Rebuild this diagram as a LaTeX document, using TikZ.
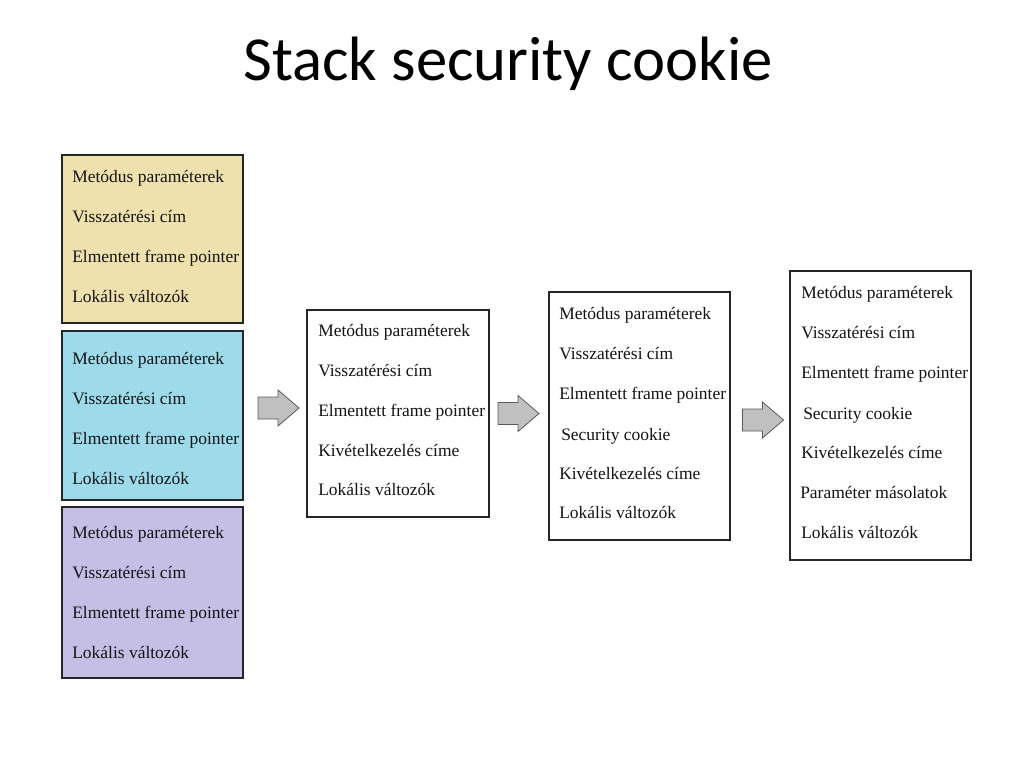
\documentclass[tikz,border=0pt]{standalone}
\usepackage{fontspec}
\setmainfont{Liberation Serif}
\newfontfamily\titlefont{Carlito}
\usetikzlibrary{fit}
\definecolor{boxyellow}{HTML}{EFE1AE}
\definecolor{boxcyan}{HTML}{9DDBEB}
\definecolor{boxpurple}{HTML}{C5BFE6}
\definecolor{arrowgray}{HTML}{C0C0C0}
\definecolor{textblack}{HTML}{141414}
\tikzset{
  stackbox/.style={draw=black!85, line width=0.8pt, inner sep=0pt, rectangle},
  entry/.style={anchor=base west, inner sep=0pt, text=textblack, font=\fontsize{13.1pt}{15pt}\selectfont},
  blockarrow/.style={draw=black!65, fill=arrowgray, line width=0.6pt, line join=miter},
  titletext/.style={anchor=base, inner sep=0pt, font=\titlefont\fontsize{47pt}{56pt}\selectfont}
}
\newcommand{\myblockarrow}[1]{%
  \draw[blockarrow, shift={(#1)}] (-20.5,-11) -- (-0.5,-11) -- (-0.5,-18) -- (20.5,0)
    -- (-0.5,18) -- (-0.5,11) -- (-20.5,11) -- cycle;}
\begin{document}
\begin{tikzpicture}[x=0.75pt,y=-0.75pt]
\useasboundingbox (0,0) rectangle (1024,768);
\node[titletext] (title) at (508,80) {Stack security cookie};

% boxes
\node[stackbox, fill=boxyellow, fit={(62,155) (243,323)}] (boxA) {};
\node[stackbox, fill=boxcyan, fit={(62,331) (243,500)}] (boxB) {};
\node[stackbox, fill=boxpurple, fit={(62,507) (243,678)}] (boxC) {};
\node[stackbox, fill=white, fit={(307,310) (489,517)}] (boxD) {};
\node[stackbox, fill=white, fit={(549,292) (730,540)}] (boxE) {};
\node[stackbox, fill=white, fit={(790,271) (971,560)}] (boxF) {};

% box A
\node[entry] (a1) at (72,182) {Metódus paraméterek};
\node[entry] (a2) at (72,222) {Visszatérési cím};
\node[entry] (a3) at (72,262) {Elmentett frame pointer};
\node[entry] (a4) at (72,302) {Lokális változók};
% box B
\node[entry] (b1) at (72,364) {Metódus paraméterek};
\node[entry] (b2) at (72,404) {Visszatérési cím};
\node[entry] (b3) at (72,444) {Elmentett frame pointer};
\node[entry] (b4) at (72,484) {Lokális változók};
% box C
\node[entry] (c1) at (72,538) {Metódus paraméterek};
\node[entry] (c2) at (72,578) {Visszatérési cím};
\node[entry] (c3) at (72,618) {Elmentett frame pointer};
\node[entry] (c4) at (72,658) {Lokális változók};
% box D
\node[entry] (d1) at (318,336) {Metódus paraméterek};
\node[entry] (d2) at (318,376) {Visszatérési cím};
\node[entry] (d3) at (318,416) {Elmentett frame pointer};
\node[entry] (d4) at (318,456) {Kivételkezelés címe};
\node[entry] (d5) at (318,495) {Lokális változók};
% box E
\node[entry] (e1) at (559,319) {Metódus paraméterek};
\node[entry] (e2) at (559,359) {Visszatérési cím};
\node[entry] (e3) at (559,399) {Elmentett frame pointer};
\node[entry] (e4) at (561,440) {Security cookie};
\node[entry] (e5) at (559,479) {Kivételkezelés címe};
\node[entry] (e6) at (559,518) {Lokális változók};
% box F
\node[entry] (f1) at (801,298) {Metódus paraméterek};
\node[entry] (f2) at (801,338) {Visszatérési cím};
\node[entry] (f3) at (801,378) {Elmentett frame pointer};
\node[entry] (f4) at (803,419) {Security cookie};
\node[entry] (f5) at (801,458) {Kivételkezelés címe};
\node[entry] (f6) at (800,498) {Paraméter másolatok};
\node[entry] (f7) at (801,538) {Lokális változók};

% block arrows
\coordinate (arr1) at (278.5,408);
\coordinate (arr2) at (518.5,413.5);
\coordinate (arr3) at (763,420);
\myblockarrow{arr1}
\myblockarrow{arr2}
\myblockarrow{arr3}
\end{tikzpicture}
\end{document}
